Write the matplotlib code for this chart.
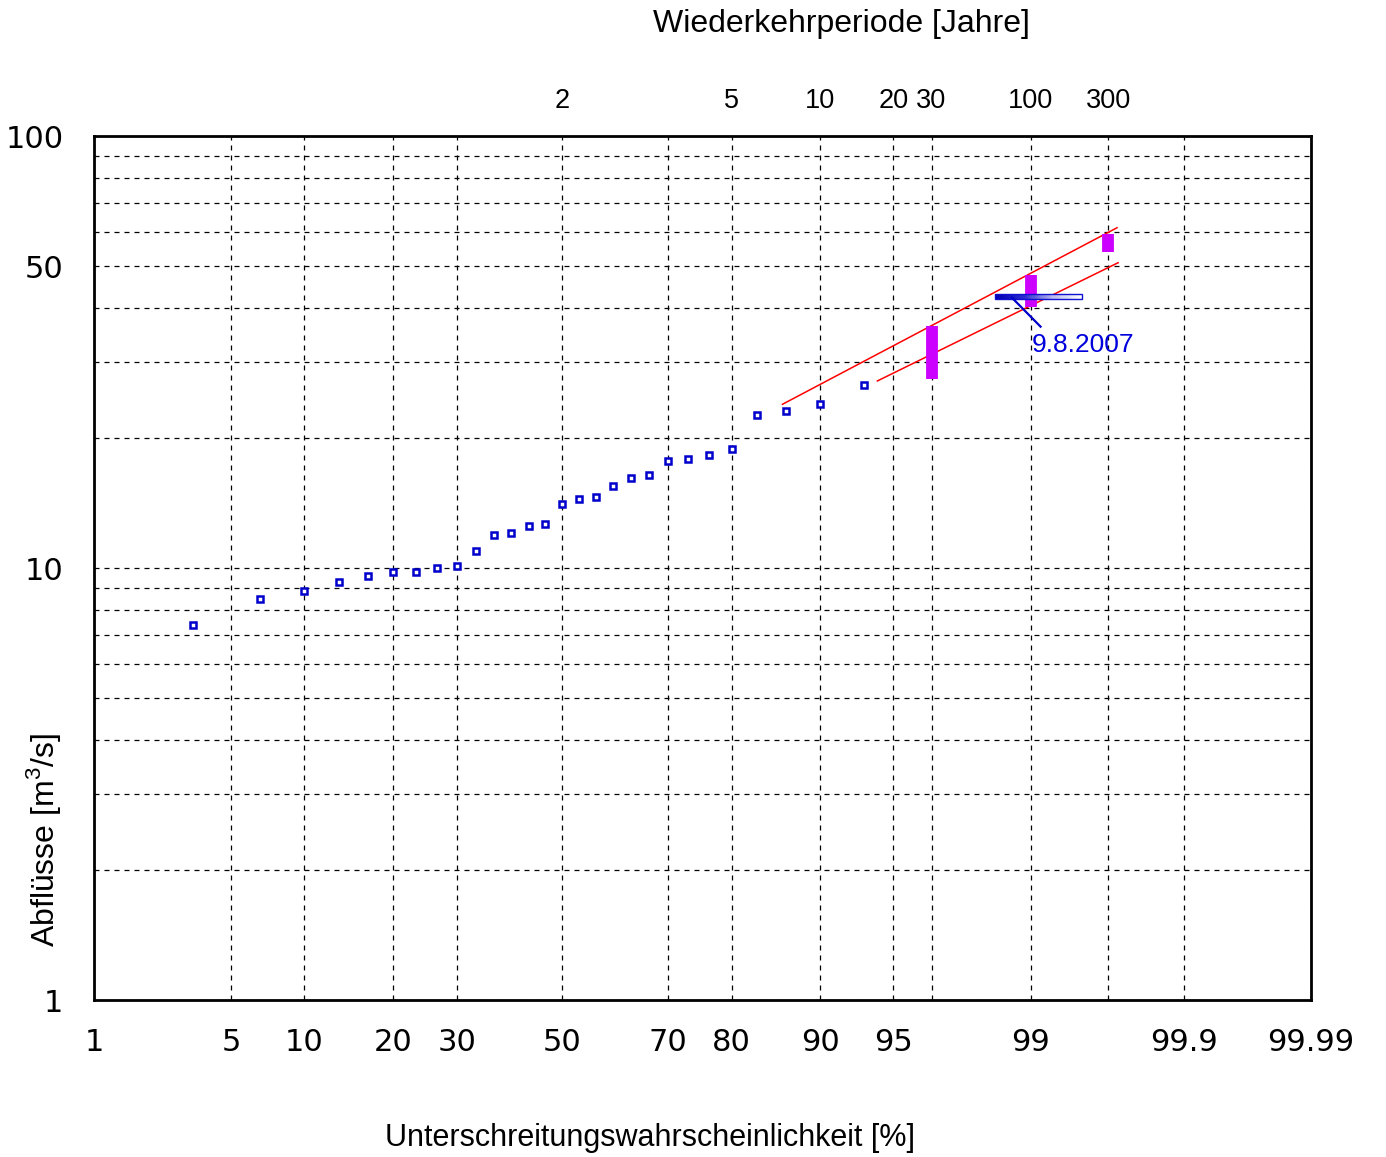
import numpy as np
import matplotlib
matplotlib.use("Agg")
import matplotlib.pyplot as plt
from matplotlib.ticker import FixedLocator, NullFormatter
from statistics import NormalDist

plt.rcParams['font.family'] = ['Liberation Sans', 'DejaVu Sans']
plt.rcParams['mathtext.fontset'] = 'custom'
plt.rcParams['mathtext.rm'] = 'Liberation Sans'

# annual peak discharges, plotted at non-exceedance probability [%]
prob = [3.33, 6.67, 10.0, 13.33, 16.67, 20.0, 23.33, 26.67, 30.0, 33.33,
        36.67, 40.0, 43.33, 46.67, 50.0, 53.33, 56.67, 60.0, 63.33, 66.67,
        70.0, 73.33, 76.67, 80.0, 83.33, 86.67, 90.0, 93.33]
flow = [7.38, 8.49, 8.86, 9.28, 9.60, 9.77, 9.77, 9.98, 10.11, 10.97,
        11.90, 12.07, 12.49, 12.62, 14.07, 14.42, 14.57, 15.51, 16.13, 16.44,
        17.66, 17.88, 18.26, 18.89, 22.61, 23.09, 23.93, 26.57]

# red fit lines (start/end)
upper_p = [86.29, 99.707]
upper_q = [23.93, 61.33]
lower_p = [94.12, 99.712]
lower_q = [27.10, 50.90]

# magenta ranges at T = 30, 100, 300 years
range_T = [30, 100, 300]
range_lo = [27.43, 40.26, 53.98]
range_hi = [36.33, 47.67, 59.31]

# event 9.8.2007
event_p = [98.418, 99.509]
event_q = 42.44
event_label = "9.8.2007"

xticks = [1, 5, 10, 20, 30, 50, 70, 80, 90, 95, 99, 99.9, 99.99]
xticklabels = ["1", "5", "10", "20", "30", "50", "70", "80", "90", "95", "99", "99.9", "99.99"]
top_T = [2, 5, 10, 20, 30, 100, 300]
yticks = [1, 10, 50, 100]

nd = NormalDist()


def fwd(p):
    p = np.asarray(p, dtype=float)
    q = np.clip(np.nan_to_num(p / 100.0, nan=0.5), 1e-9, 1 - 1e-9)
    return np.array([nd.inv_cdf(v) for v in q.ravel()]).reshape(q.shape)


def inv(z):
    z = np.asarray(z, dtype=float)
    zz = np.nan_to_num(z, nan=0.0, posinf=40, neginf=-40)
    return 100.0 * np.array([nd.cdf(v) for v in zz.ravel()]).reshape(zz.shape)


fig = plt.figure(figsize=(13.86, 11.57), dpi=100)
ax = fig.add_axes([94/1386, 1 - 1000/1157, 1217/1386, 864/1157])
ax.set_xscale('function', functions=(fwd, inv))
ax.set_yscale('log')
ax.set_xlim(1, 99.99)
ax.set_ylim(1, 100)

grid_kw = dict(color='black', lw=0.9, ls=(0, (4, 4)))
ax.xaxis.set_major_locator(FixedLocator(xticks))
ax.xaxis.set_minor_locator(FixedLocator([100 * (1 - 1/30), 100 * (1 - 1/300)]))
ax.xaxis.set_minor_formatter(NullFormatter())
ax.set_xticklabels(xticklabels, family='DejaVu Sans', fontsize=22)
ax.yaxis.set_major_locator(FixedLocator(yticks))
ax.yaxis.set_minor_locator(FixedLocator([2, 3, 4, 5, 6, 7, 8, 9, 20, 30, 40, 60, 70, 80, 90]))
ax.yaxis.set_minor_formatter(NullFormatter())
ax.set_yticklabels([str(v) for v in yticks], family='DejaVu Sans', fontsize=22)
ax.grid(True, which='both', **grid_kw)
ax.tick_params(which='both', length=0)
ax.tick_params(axis='x', pad=20)
ax.tick_params(axis='y', pad=22)
for s in ax.spines.values():
    s.set_linewidth(2)

ax.plot(prob, flow, ls='none', marker='s', ms=5, mew=1.8, mec='#0000cc', mfc='white', zorder=5)

ax.plot(upper_p, upper_q, color='red', lw=1.1, zorder=4)
ax.plot(lower_p, lower_q, color='red', lw=1.1, zorder=4)

for T, lo, hi in zip(range_T, range_lo, range_hi):
    pT = 100 * (1 - 1 / T)
    ax.plot([pT, pT], [lo, hi], color='#cc00ff', lw=8.5, solid_capstyle='butt', zorder=6)

# gradient bar for the 2007 event
zs = np.linspace(fwd(event_p[0]), fwd(event_p[1]), 80)
ps = inv(zs)
cols = plt.matplotlib.colors.LinearSegmentedColormap.from_list(
    'ev', ['#0000b0', '#2a2ad0', '#b8b8f0', '#ffffff'])
h = 1.12
for i in range(len(ps) - 1):
    ax.barh(event_q, ps[i + 1] - ps[i], left=ps[i], height=h,
            color=cols(i / (len(ps) - 2)), lw=0, zorder=7)
ax.barh(event_q, event_p[1] - event_p[0], left=event_p[0], height=h,
        fill=False, edgecolor='#1010d0', lw=1.0, zorder=8)
ax.plot([98.724, 99.124], [42.24, 36.20], color='#0000cc', lw=1.6, zorder=8)
ax.text(99.016, 31.67, event_label, color='#0000dd', fontsize=19,
        ha='left', va='baseline', zorder=9)

ax2 = ax.twiny()
ax2.set_xscale('function', functions=(fwd, inv))
ax2.set_xlim(1, 99.99)
ax2.xaxis.set_major_locator(FixedLocator([100 * (1 - 1 / T) for T in top_T]))
ax2.set_xticklabels([str(T) for T in top_T], fontsize=19.5)
ax2.tick_params(length=0, pad=16)
for s in ax2.spines.values():
    s.set_visible(False)

fig.text(841.5/1386, 1 - 24/1157, "Wiederkehrperiode [Jahre]", fontsize=23,
         ha='center', va='center')
fig.text(650/1386, 1 - 1138/1157, "Unterschreitungswahrscheinlichkeit [%]", fontsize=22,
         ha='center', va='center')
fig.text(44/1386, 1 - 840/1157, "Abflüsse [m$^3$/s]", fontsize=23,
         ha='center', va='center', rotation=90)

fig.savefig("out.png", dpi=100)
